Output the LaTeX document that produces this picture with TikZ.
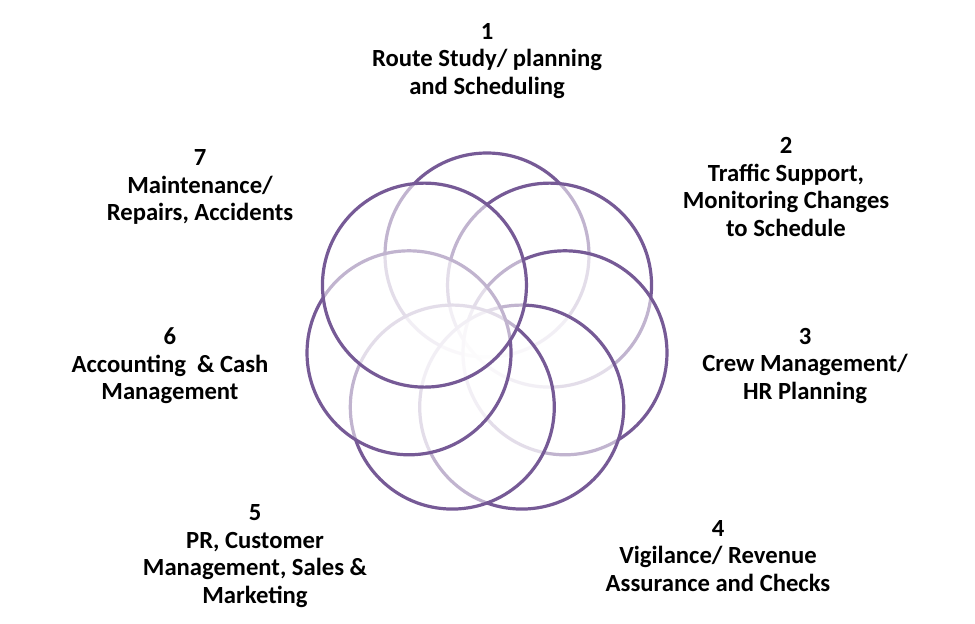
\documentclass[tikz,border=0pt]{standalone}
\usepackage{fontspec}
\setmainfont{Carlito}
\definecolor{ring}{HTML}{765A96}

\begin{document}
\begin{tikzpicture}[x=0.75pt,y=-0.75pt]
            \tikzset{ring/.style={circle,draw=ring,line width=2.4pt,fill=white,fill opacity=0.55,draw opacity=1,minimum size=153pt,inner sep=0pt},
              lbl/.style={font=\bfseries\fontsize{18.5}{20.6}\selectfont,align=center}}
            \useasboundingbox (0,0) rectangle (975,624);
            \foreach \i in {1,...,7}
              \node[ring] (c\i) at ({487+80*cos(90-(\i-1)*360/7)},{335-80*sin(90-(\i-1)*360/7)}) {};
            \node[lbl] (l1) at (487,61) {1\\Route Study/ planning\\and Scheduling};
            \node[lbl] (l2) at (786,187) {2\\Traffic Support,\\Monitoring Changes\\to Schedule};
            \node[lbl] (l3) at (805,366) {3\\Crew Management/\\HR Planning};
            \node[lbl] (l4) at (718,556) {4\\Vigilance/ Revenue\\Assurance and Checks};
            \node[lbl] (l5) at (255,556) {5\\PR, Customer\\Management, Sales \&\\Marketing};
            \node[lbl] (l6) at (170,366) {6\\Accounting \ \& Cash\\Management};
            \node[lbl] (l7) at (200,187) {7\\Maintenance/\\Repairs, Accidents};
\end{tikzpicture}
\end{document}
